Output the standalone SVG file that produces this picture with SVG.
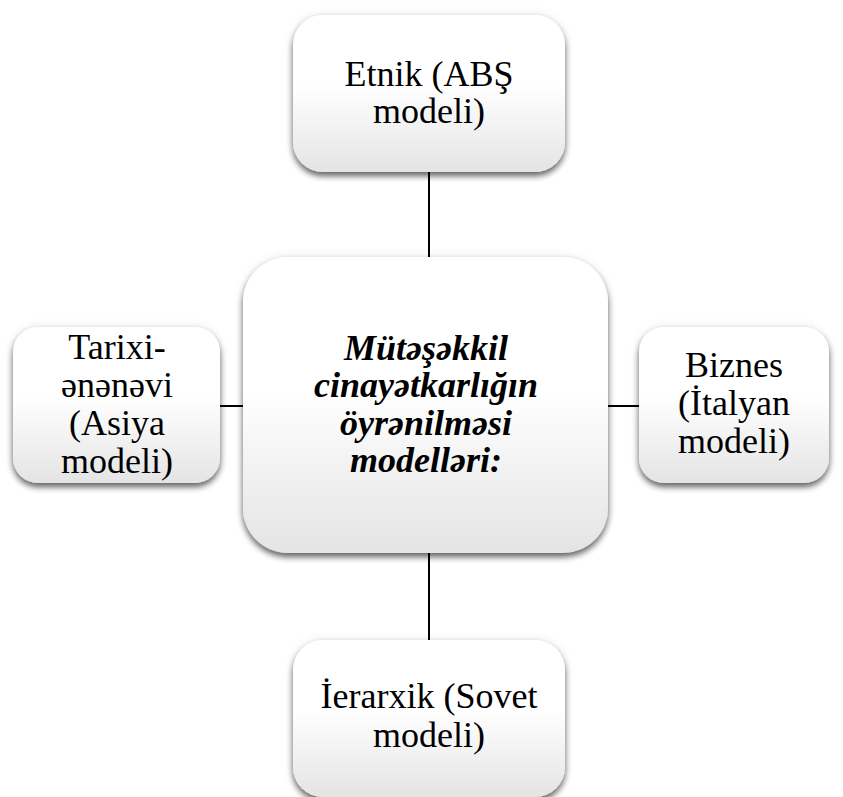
<svg xmlns="http://www.w3.org/2000/svg" width="843" height="797" viewBox="0 0 843 797">
<defs>
<linearGradient id="g" x1="0" y1="0" x2="0" y2="1">
<stop offset="0" stop-color="#ffffff"/>
<stop offset="0.45" stop-color="#ffffff"/>
<stop offset="1" stop-color="#e4e4e4"/>
</linearGradient>
<filter id="sh" x="-10%" y="-10%" width="120%" height="125%">
<feGaussianBlur in="SourceAlpha" stdDeviation="3" result="b"/>
<feOffset in="b" dy="4" result="o"/>
<feComponentTransfer in="o" result="s"><feFuncA type="linear" slope="0.6"/></feComponentTransfer>
<feGaussianBlur in="SourceAlpha" stdDeviation="6" result="gl"/>
<feComponentTransfer in="gl" result="g2"><feFuncA type="linear" slope="0.08"/></feComponentTransfer>
<feMerge><feMergeNode in="g2"/><feMergeNode in="s"/><feMergeNode in="SourceGraphic"/></feMerge>
</filter>
</defs>
<style>
.box{fill:url(#g);filter:url(#sh);}
.t{font-family:"Liberation Serif","Times New Roman",serif;font-size:36px;fill:#000;text-anchor:middle;}
.c{font-weight:bold;font-style:italic;}
.ln{stroke:#000;stroke-width:2;fill:none;}
</style>
<rect width="843" height="797" fill="#fff"/>
<g id="connectors">
<line class="ln" x1="429" y1="170" x2="429" y2="258"/>
<line class="ln" x1="429" y1="552" x2="429" y2="641"/>
<line class="ln" x1="219" y1="406" x2="244" y2="406"/>
<line class="ln" x1="607" y1="406" x2="640" y2="406"/>
</g>
<g id="top">
<rect class="box" x="293" y="15" width="272" height="157" rx="30"/>
<text class="t" x="429" y="86">Etnik (ABŞ</text>
<text class="t" x="429" y="123">modeli)</text>
</g>
<g id="center">
<rect class="box" x="243" y="257" width="365" height="296" rx="45"/>
<text class="t c" x="426" y="360">Mütəşəkkil</text>
<text class="t c" x="426" y="397">cinayətkarlığın</text>
<text class="t c" x="426" y="435">öyrənilməsi</text>
<text class="t c" x="426" y="472">modelləri:</text>
</g>
<g id="left">
<rect class="box" x="13" y="327" width="207" height="156" rx="25"/>
<text class="t" x="117" y="359">Tarixi-</text>
<text class="t" x="117" y="397">ənənəvi</text>
<text class="t" x="117" y="435">(Asiya</text>
<text class="t" x="117" y="473">modeli)</text>
</g>
<g id="right">
<rect class="box" x="639" y="327" width="190" height="156" rx="25"/>
<text class="t" x="734" y="377">Biznes</text>
<text class="t" x="734" y="415">(İtalyan</text>
<text class="t" x="734" y="453">modeli)</text>
</g>
<g id="bottom">
<rect class="box" x="293" y="640" width="272" height="157" rx="30"/>
<text class="t" x="429" y="708">İerarxik (Sovet</text>
<text class="t" x="429" y="747">modeli)</text>
</g>
</svg>
